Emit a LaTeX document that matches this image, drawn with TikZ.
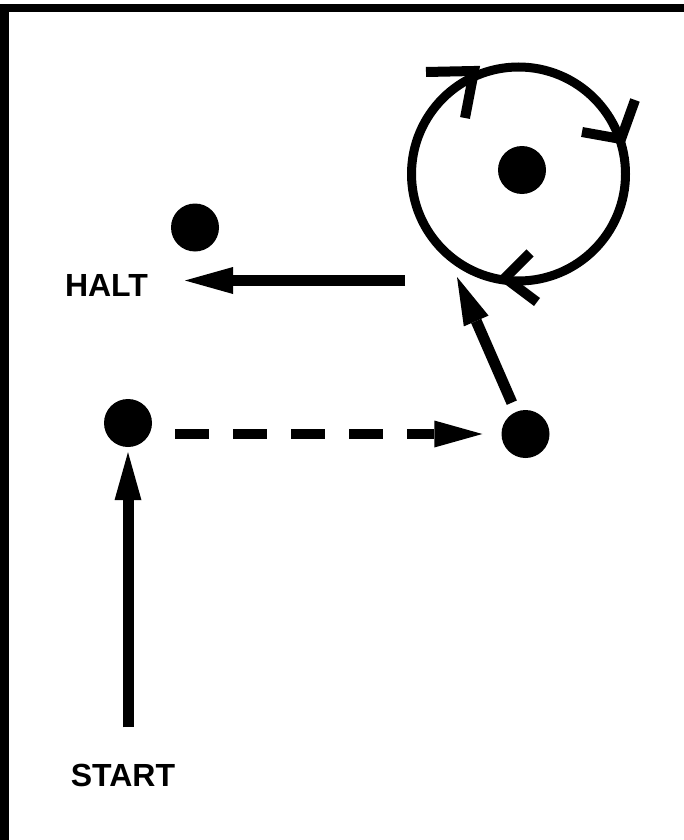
\documentclass[tikz,border=0pt]{standalone}
\usepackage{fontspec}
\setmainfont{Liberation Sans}
\usetikzlibrary{arrows.meta}
\begin{document}
\begin{tikzpicture}[x=1pt,y=-1pt,
  dot/.style={circle,fill=black,inner sep=0pt,minimum size=48pt},
  lbl/.style={inner sep=0pt,font=\bfseries\fontsize{32}{36}\selectfont},
  arr/.style={line width=11pt,-{Triangle[length=48pt,width=27pt,line width=0pt]}},
  darr/.style={line width=10pt,dash pattern=on 34pt off 24pt,-{Triangle[length=48pt,width=27pt,line width=0pt]}},
  barb/.style={line width=10pt,line join=miter,line cap=butt},
  ring/.style={circle,draw=black,line width=9pt,inner sep=0pt,minimum size=214pt}
]
\useasboundingbox (0,0) rectangle (684,840);
% frame (top and left edges)
\draw[line width=8.5pt,line join=miter] (700,8) -- (4.25,8) -- (4.25,850);

% nodes
\node[ring] (loop) at (518.5,174) {};
\node[dot] (dc) at (522,170) {};
\node[dot] (dh) at (195,227.5) {};
\node[dot] (d1) at (128,423) {};
\node[dot] (d2) at (525.5,434) {};
\node[lbl] (halt) at (106.5,285.5) {HALT};
\node[lbl] (start) at (123,775) {START};

% free ends
\coordinate (hs) at (405,280.5);
\coordinate (he) at (185,280.5);
\coordinate (cin) at (457,277);

% connectors
\draw[arr,shorten <=36pt,shorten >=5pt] (start.north -| d1.south) -- (d1.south);
\draw[darr,shorten <=23pt,shorten >=19pt] (d1.east |- d2.west) -- (d2.west);
\draw[arr,shorten <=10pt] (d2) -- (cin);
\draw[arr] (hs) -- (he);

% clockwise barbs on the loop
\draw[barb] (426,72) -- (474,71) -- (465,118);
\draw[barb] (582,132) -- (621,139) -- (635,100);
\draw[barb] (530,253) -- (505,278) -- (537,302);
\end{tikzpicture}
\end{document}
